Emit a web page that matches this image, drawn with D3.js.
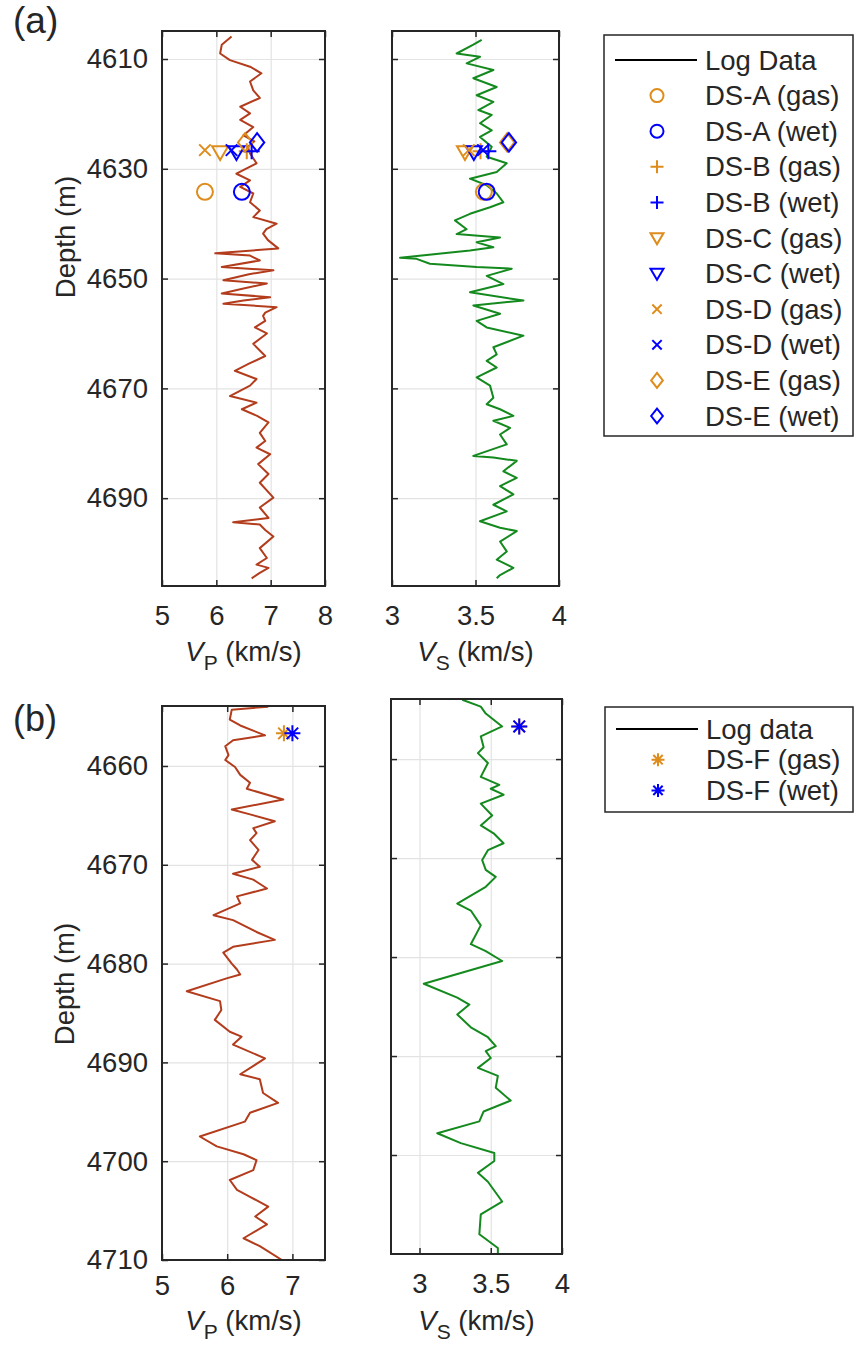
<!DOCTYPE html>
<html><head><meta charset="utf-8">
<script src="https://cdn.jsdelivr.net/npm/d3@7"></script>
<style>
body{margin:0;background:#fff}
svg{display:block}
text{font-family:"Liberation Sans",Arial,Helvetica,sans-serif;fill:#262626}
</style>
</head><body>
<svg id="c" width="856" height="1346"></svg>
<script>
// ---------------- DATA ----------------
// Panel (a) log data
const depthA_vp = [4605.9,4607.4,4609.0,4610.2,4611.4,4612.6,4614.1,4615.7,4617.1,4618.7,4619.9,4621.1,4622.4,4623.9,4625.0,4626.0,4627.2,4629.0,4630.9,4632.1,4633.3,4634.5,4636.1,4637.6,4638.8,4640.0,4641.0,4641.8,4643.0,4644.5,4645.4,4645.8,4646.7,4647.9,4648.5,4649.2,4650.3,4650.9,4651.8,4652.7,4653.4,4654.0,4654.6,4655.2,4656.2,4656.8,4657.7,4658.9,4660.0,4661.9,4664.1,4665.5,4666.8,4668.3,4669.5,4671.4,4672.6,4673.8,4675.0,4676.2,4678.1,4679.6,4680.8,4682.0,4683.8,4685.6,4687.2,4689.9,4691.7,4693.6,4694.4,4694.8,4695.8,4697.0,4699.1,4700.9,4702.1,4702.7,4703.6,4704.6];
const vpA = [6.28,6.10,6.07,6.25,6.62,6.83,6.62,6.68,6.80,6.44,6.62,6.44,6.68,6.50,6.70,6.58,6.62,6.74,6.37,6.62,6.44,6.68,6.62,6.80,6.68,7.11,6.92,6.86,6.95,7.14,5.98,6.62,6.80,6.10,7.05,6.60,6.13,6.93,6.50,6.10,6.99,6.50,6.13,7.11,6.90,6.86,6.90,6.71,6.93,6.68,6.90,6.60,6.34,6.74,6.62,6.25,6.74,6.47,6.75,6.96,6.80,6.90,6.74,6.99,6.77,6.96,6.80,7.05,6.80,6.96,6.31,6.80,6.90,7.05,6.80,6.93,6.74,6.96,6.80,6.65];
const depthA_vs = [4606.5,4607.4,4609.0,4609.6,4610.8,4612.0,4613.5,4615.1,4616.6,4617.8,4619.3,4620.2,4621.7,4623.0,4624.2,4626.0,4627.8,4629.0,4630.6,4631.8,4633.0,4634.5,4636.1,4637.0,4638.2,4639.4,4641.0,4641.9,4642.5,4643.4,4644.3,4644.9,4646.2,4646.4,4647.3,4647.9,4648.2,4649.5,4651.0,4652.5,4654.0,4654.9,4656.4,4657.7,4658.9,4660.4,4662.5,4663.8,4665.0,4666.2,4668.0,4669.5,4671.7,4672.9,4673.8,4675.0,4675.9,4677.2,4678.4,4680.2,4682.3,4682.6,4683.2,4685.1,4686.3,4687.8,4689.3,4691.2,4692.4,4694.2,4695.4,4696.0,4697.9,4699.7,4701.2,4702.7,4704.0,4704.6];
const vsA = [3.537,3.487,3.387,3.527,3.447,3.607,3.487,3.627,3.507,3.607,3.517,3.597,3.527,3.597,3.527,3.597,3.567,3.687,3.627,3.467,3.567,3.627,3.667,3.587,3.467,3.377,3.447,3.387,3.647,3.507,3.607,3.467,3.048,3.147,3.227,3.507,3.717,3.567,3.667,3.467,3.787,3.487,3.647,3.507,3.567,3.787,3.607,3.627,3.567,3.627,3.507,3.587,3.607,3.567,3.647,3.727,3.607,3.707,3.647,3.687,3.487,3.607,3.747,3.667,3.747,3.647,3.727,3.607,3.687,3.527,3.647,3.747,3.647,3.687,3.627,3.727,3.647,3.627];

// Panel (b) log data
const depthB_vp = [4654.0,4654.3,4655.3,4655.9,4656.9,4657.4,4658.0,4658.9,4659.4,4660.1,4660.9,4661.7,4662.3,4663.4,4664.4,4664.9,4665.6,4666.3,4666.8,4667.5,4668.5,4669.5,4670.2,4670.9,4671.5,4672.4,4673.2,4673.9,4675.1,4675.6,4676.8,4677.6,4678.3,4678.9,4680.0,4680.6,4681.1,4681.5,4682.8,4683.8,4684.7,4685.7,4686.9,4687.4,4688.2,4689.6,4691.2,4691.7,4693.1,4694.1,4695.1,4696.0,4697.5,4698.5,4699.3,4699.9,4700.9,4701.9,4702.9,4703.6,4704.6,4705.6,4706.4,4707.8,4708.6,4710.0];
const vpB = [6.63,6.07,6.04,6.20,6.58,6.09,5.97,6.02,5.97,6.12,6.20,6.35,6.30,6.86,6.07,6.35,6.73,6.40,6.45,6.35,6.48,6.38,6.50,6.09,6.40,6.61,6.15,6.20,5.79,6.09,6.45,6.73,6.09,5.94,6.07,6.15,6.20,5.99,5.38,5.89,5.91,5.81,6.04,6.22,6.09,6.58,6.20,6.50,6.55,6.78,6.35,6.27,5.58,5.84,6.25,6.45,6.40,6.04,6.15,6.35,6.63,6.43,6.61,6.25,6.50,6.84];
const depthB_vs = [4654.0,4654.7,4655.4,4656.7,4657.7,4658.8,4659.4,4660.4,4661.8,4662.6,4663.0,4663.6,4664.5,4665.7,4666.7,4667.5,4668.5,4669.2,4670.2,4671.2,4671.9,4672.9,4674.6,4675.3,4676.8,4678.7,4679.4,4680.4,4682.7,4684.1,4684.8,4685.8,4687.1,4688.1,4689.0,4689.5,4690.2,4691.2,4692.0,4693.2,4694.5,4695.6,4696.6,4697.8,4698.8,4699.8,4700.6,4701.8,4702.7,4704.7,4706.0,4708.0,4709.4,4710.0];
const vsB = [3.30,3.43,3.465,3.58,3.43,3.45,3.41,3.48,3.43,3.56,3.50,3.59,3.43,3.51,3.43,3.52,3.59,3.48,3.44,3.465,3.535,3.465,3.265,3.36,3.43,3.36,3.465,3.58,3.03,3.265,3.35,3.265,3.36,3.48,3.535,3.465,3.50,3.41,3.55,3.535,3.64,3.45,3.42,3.125,3.29,3.525,3.525,3.41,3.48,3.58,3.43,3.42,3.55,3.55];

// Panel (a) data-set markers
const setNamesA = ["DS-A (gas)","DS-A (wet)","DS-B (gas)","DS-B (wet)","DS-C (gas)","DS-C (wet)","DS-D (gas)","DS-D (wet)","DS-E (gas)","DS-E (wet)"];
const setSymbolsA = ["o","o","+","+","v","v","x","x","d","d"];
const setFluidA = ["gas","wet","gas","wet","gas","wet","gas","wet","gas","wet"];
const setDepthA = [4634.2,4634.2,4626.8,4626.8,4627.0,4627.0,4626.6,4626.6,4625.2,4625.2];
const setVpA = [5.79,6.47,6.56,6.65,6.07,6.37,5.79,6.28,6.53,6.75];
const setVsA = [3.55,3.567,3.53,3.577,3.437,3.49,3.46,3.545,3.69,3.70];

// Panel (b) data-set markers
const setNamesB = ["DS-F (gas)","DS-F (wet)"];
const setSymbolsB = ["*","*"];
const setFluidB = ["gas","wet"];
const setDepthB = [4656.7,4656.7];
const setVpB = [6.87,7.0];
const setVsB = [3.70,3.70];

// tick labels
const depthTicksA = [4610,4630,4650,4670,4690];
const vpTicksA = [5,6,7,8];
const vsTicksA = [3,3.5,4];
const depthTicksB = [4660,4670,4680,4690,4700,4710];
const vpTicksB = [5,6,7];
const vsTicksB = [3,3.5,4];

// ---------------- STYLE ----------------
const FONT = 27.5;
const COL_VP = "#b23c1c";
const COL_VS = "#148a1e";
const COL_GAS = "#de8c1c";
const COL_WET = "#0000ff";
const AX = "#262626";
const GRID = "#e3e3e3";

const svg = d3.select("#c");

function markerPath(type, r) {
  const p = d3.path();
  if (type === "o") { p.moveTo(r, 0); p.arc(0, 0, r, 0, 2 * Math.PI); }
  else if (type === "+") { p.moveTo(-r, 0); p.lineTo(r, 0); p.moveTo(0, -r); p.lineTo(0, r); }
  else if (type === "x") { const a = r * 0.72; p.moveTo(-a, -a); p.lineTo(a, a); p.moveTo(-a, a); p.lineTo(a, -a); }
  else if (type === "v") { p.moveTo(-r, -r * 0.75); p.lineTo(r, -r * 0.75); p.lineTo(0, r * 0.95); p.closePath(); }
  else if (type === "d") { p.moveTo(0, -r * 1.15); p.lineTo(r * 0.9, 0); p.lineTo(0, r * 1.15); p.lineTo(-r * 0.9, 0); p.closePath(); }
  else if (type === "*") {
    p.moveTo(-r, 0); p.lineTo(r, 0); p.moveTo(0, -r); p.lineTo(0, r);
    const a = r * 0.72; p.moveTo(-a, -a); p.lineTo(a, a); p.moveTo(-a, a); p.lineTo(a, -a);
  }
  return p.toString();
}

let clipId = 0;
function panel(o) {
  const x = d3.scaleLinear().domain(o.xDomain).range([o.x0, o.x1]);
  const y = d3.scaleLinear().domain(o.yDomain).range([o.y0, o.y1]);
  const g = svg.append("g");
  const w = o.x1 - o.x0, h = o.y1 - o.y0;

  // grid
  g.append("g").attr("transform", `translate(0,${o.y1})`)
    .call(d3.axisBottom(x).tickValues(o.xTicks).tickSize(-h).tickFormat(""))
    .call(s => { s.select(".domain").remove(); s.selectAll("line").attr("stroke", GRID).attr("stroke-width", 1.2); });
  g.append("g").attr("transform", `translate(${o.x0},0)`)
    .call(d3.axisLeft(y).tickValues(o.yTicks).tickSize(-w).tickFormat(""))
    .call(s => { s.select(".domain").remove(); s.selectAll("line").attr("stroke", GRID).attr("stroke-width", 1.2); });

  // clip
  const id = "clip" + (clipId++);
  svg.append("clipPath").attr("id", id).append("rect")
    .attr("x", o.x0).attr("y", o.y0).attr("width", w).attr("height", h);

  // log curve
  const pts = o.depth.map((d, i) => [o.values[i], d]);
  g.append("path").datum(pts).attr("clip-path", `url(#${id})`)
    .attr("fill", "none").attr("stroke", o.color).attr("stroke-width", 2)
    .attr("stroke-linejoin", "round")
    .attr("d", d3.line().x(d => x(d[0])).y(d => y(d[1])));

  // markers
  const mk = o.markers;
  mk.sym.forEach((s, i) => {
    g.append("path").attr("d", markerPath(s, 8))
      .attr("transform", `translate(${x(mk.val[i])},${y(mk.depth[i])})`)
      .attr("fill", "none").attr("stroke", mk.fluid[i] === "gas" ? COL_GAS : COL_WET)
      .attr("stroke-width", 2);
  });

  // axes with inward ticks
  const tk = 6;
  const styleAx = s => { s.select(".domain").remove(); s.selectAll("line").attr("stroke", AX).attr("stroke-width", 1.5);
    s.selectAll("text").attr("font-size", FONT).attr("fill", AX).style("font-family", '"Liberation Sans",Arial,sans-serif'); };
  g.append("g").attr("transform", `translate(0,${o.y1})`)
    .call(d3.axisBottom(x).tickValues(o.xTicks).tickSizeInner(-tk).tickSizeOuter(0).tickPadding(o.xPad).tickFormat(d3.format("~g")))
    .call(styleAx);
  g.append("g").attr("transform", `translate(0,${o.y0})`)
    .call(d3.axisTop(x).tickValues(o.xTicks).tickSizeInner(-tk).tickSizeOuter(0).tickFormat(""))
    .call(styleAx);
  g.append("g").attr("transform", `translate(${o.x0},0)`)
    .call(d3.axisLeft(y).tickValues(o.yTicks).tickSizeInner(-tk).tickSizeOuter(0).tickPadding(14).tickFormat(o.showY ? d3.format("d") : ""))
    .call(styleAx);
  g.append("g").attr("transform", `translate(${o.x1},0)`)
    .call(d3.axisRight(y).tickValues(o.yTicks).tickSizeInner(-tk).tickSizeOuter(0).tickFormat(""))
    .call(styleAx);

  g.append("rect").attr("x", o.x0).attr("y", o.y0).attr("width", w).attr("height", h)
    .attr("fill", "none").attr("stroke", AX).attr("stroke-width", 2);

  // x label
  const t = g.append("text").attr("x", (o.x0 + o.x1) / 2).attr("y", o.labelY)
    .attr("text-anchor", "middle").attr("font-size", FONT);
  t.append("tspan").attr("font-style", "italic").text("V");
  t.append("tspan").attr("font-size", 21).attr("dy", 9).text(o.sub);
  t.append("tspan").attr("dy", -9).text(" (km/s)");
  return { x, y };
}

function depthLabel(cx, cy) {
  svg.append("text").attr("transform", `translate(${cx},${cy}) rotate(-90)`)
    .attr("text-anchor", "middle").attr("dominant-baseline", "central")
    .attr("font-size", FONT).text("Depth (m)");
}

// ---------------- PANEL (a) ----------------
panel({ x0: 162, x1: 325, y0: 31, y1: 586, xDomain: [5, 8], yDomain: [4604.9, 4706.0],
  xTicks: vpTicksA, yTicks: depthTicksA, showY: true, xPad: 19, labelY: 661, sub: "P",
  depth: depthA_vp, values: vpA, color: COL_VP,
  markers: { sym: setSymbolsA, fluid: setFluidA, depth: setDepthA, val: setVpA } });
panel({ x0: 392, x1: 559, y0: 31, y1: 586, xDomain: [3, 4], yDomain: [4604.9, 4706.0],
  xTicks: vsTicksA, yTicks: depthTicksA, showY: false, xPad: 19, labelY: 661, sub: "S",
  depth: depthA_vs, values: vsA, color: COL_VS,
  markers: { sym: setSymbolsA, fluid: setFluidA, depth: setDepthA, val: setVsA } });
depthLabel(65, 237);
svg.append("text").attr("x", 13).attr("y", 33).attr("font-size", 37).text("(a)");

// ---------------- PANEL (b) ----------------
panel({ x0: 162, x1: 325, y0: 706, y1: 1260, xDomain: [5, 7.5], yDomain: [4653.93, 4710],
  xTicks: vpTicksB, yTicks: depthTicksB, showY: true, xPad: 15, labelY: 1330, sub: "P",
  depth: depthB_vp, values: vpB, color: COL_VP,
  markers: { sym: setSymbolsB, fluid: setFluidB, depth: setDepthB, val: setVpB } });
panel({ x0: 391, x1: 562, y0: 699, y1: 1254, xDomain: [2.8, 4], yDomain: [4653.93, 4710],
  xTicks: vsTicksB, yTicks: depthTicksB.slice(0, 5), showY: false, xPad: 19, labelY: 1330, sub: "S",
  depth: depthB_vs, values: vsB, color: COL_VS,
  markers: { sym: setSymbolsB, fluid: setFluidB, depth: setDepthB, val: setVsB } });
depthLabel(64, 984);
svg.append("text").attr("x", 13).attr("y", 731).attr("font-size", 36).text("(b)");

// ---------------- LEGENDS ----------------
function legend(x0, x1, y0, y1, firstY, step, title, names, syms, fluids) {
  const g = svg.append("g");
  g.append("rect").attr("x", x0).attr("y", y0).attr("width", x1 - x0).attr("height", y1 - y0)
    .attr("fill", "#fff").attr("stroke", AX).attr("stroke-width", 1.5);
  g.append("line").attr("x1", x0 + 11).attr("x2", x0 + 93).attr("y1", firstY).attr("y2", firstY)
    .attr("stroke", "#000").attr("stroke-width", 2);
  g.append("text").attr("x", x0 + 101).attr("y", firstY).attr("dominant-baseline", "central")
    .attr("font-size", FONT).text(title);
  names.forEach((n, i) => {
    const yy = firstY + step * (i + 1);
    g.append("path").attr("d", markerPath(syms[i], 6.5))
      .attr("transform", `translate(${x0 + 53},${yy})`)
      .attr("fill", "none").attr("stroke", fluids[i] === "gas" ? COL_GAS : COL_WET).attr("stroke-width", 2);
    g.append("text").attr("x", x0 + 101).attr("y", yy).attr("dominant-baseline", "central")
      .attr("font-size", FONT).text(n);
  });
}
legend(604, 853, 35, 436, 60, 35.6, "Log Data", setNamesA, setSymbolsA, setFluidA);
legend(605, 853, 707, 812, 729, 30.7, "Log data", setNamesB, setSymbolsB, setFluidB);
</script>
</body></html>
